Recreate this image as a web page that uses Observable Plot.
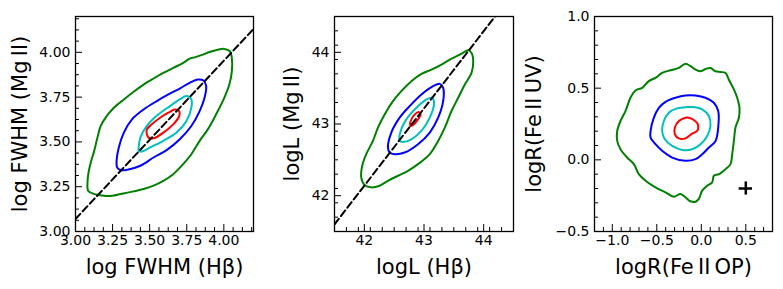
<!DOCTYPE html>
<html><head><meta charset="utf-8">
<script src="https://cdn.jsdelivr.net/npm/d3@7"></script>
<script src="https://cdn.jsdelivr.net/npm/@observablehq/plot@0.6"></script>
<style>
html,body{margin:0;padding:0;background:#fff;}
#chart{position:relative;width:783px;height:289px;overflow:hidden;background:#fff;}
#chart svg{position:absolute;top:0;}
</style></head><body><div id="chart"></div>
<script>
// ---------- Panel 1: log FWHM ----------
const p1XTicks = [3.0, 3.25, 3.5, 3.75, 4.0];
const p1YTicks = [3.0, 3.25, 3.5, 3.75, 4.0];
const p1Green = [[3.081,3.274],[3.085,3.228],[3.114,3.213],[3.192,3.200],[3.25,3.200],[3.303,3.209],[3.392,3.224],[3.459,3.237],[3.526,3.256],[3.592,3.283],[3.659,3.320],[3.726,3.376],[3.781,3.431],[3.837,3.506],[3.892,3.570],[3.948,3.654],[4.003,3.746],[4.037,3.820],[4.054,3.894],[4.054,3.969],[4.041,4.006],[4.003,4.019],[3.959,4.015],[3.903,4.002],[3.859,3.987],[3.803,3.972],[3.770,3.965],[3.726,3.941],[3.659,3.913],[3.592,3.885],[3.526,3.854],[3.459,3.820],[3.392,3.780],[3.326,3.737],[3.259,3.691],[3.210,3.644],[3.170,3.589],[3.148,3.524],[3.126,3.450],[3.103,3.385],[3.088,3.330]];
const p1Blue = [[3.281,3.357],[3.303,3.343],[3.35,3.345],[3.437,3.367],[3.526,3.413],[3.614,3.454],[3.703,3.515],[3.781,3.589],[3.837,3.672],[3.870,3.746],[3.881,3.811],[3.863,3.843],[3.826,3.848],[3.770,3.830],[3.703,3.798],[3.626,3.765],[3.548,3.728],[3.459,3.681],[3.381,3.626],[3.326,3.552],[3.292,3.469],[3.277,3.394]];
const p1Cyan = [[3.426,3.450],[3.448,3.446],[3.503,3.469],[3.592,3.506],[3.681,3.552],[3.748,3.617],[3.781,3.691],[3.781,3.737],[3.748,3.756],[3.703,3.737],[3.637,3.700],[3.559,3.654],[3.481,3.589],[3.437,3.524],[3.426,3.469]];
const p1Red = [[3.481,3.543],[3.492,3.524],[3.526,3.520],[3.592,3.552],[3.659,3.598],[3.699,3.644],[3.699,3.672],[3.670,3.681],[3.626,3.663],[3.570,3.635],[3.514,3.598],[3.481,3.570]];
const p1Diag = [[3.0, 3.07], [4.2, 4.13]];

// ---------- Panel 2: log L ----------
const p2XTicks = [42, 43, 44];
const p2YTicks = [42, 43, 44];
const p2Green = [[42.116,42.116],[42.004,42.148],[41.948,42.255],[41.965,42.417],[42.032,42.579],[42.144,42.764],[42.228,42.949],[42.340,43.134],[42.480,43.319],[42.620,43.458],[42.789,43.597],[42.957,43.699],[43.125,43.759],[43.293,43.829],[43.461,43.912],[43.629,43.981],[43.741,44.028],[43.797,43.991],[43.825,43.875],[43.797,43.713],[43.685,43.551],[43.573,43.366],[43.461,43.181],[43.349,42.949],[43.237,42.764],[43.097,42.579],[42.900,42.440],[42.732,42.347],[42.564,42.278],[42.396,42.208],[42.256,42.139]];
const p2Blue = [[42.424,42.602],[42.508,42.579],[42.676,42.602],[42.900,42.718],[43.097,42.880],[43.237,43.088],[43.321,43.319],[43.321,43.505],[43.265,43.560],[43.153,43.528],[42.957,43.412],[42.760,43.250],[42.592,43.088],[42.452,42.880],[42.396,42.671]];
const p2Cyan = [[42.592,42.764],[42.648,42.750],[42.789,42.787],[42.957,42.903],[43.097,43.088],[43.169,43.296],[43.137,43.366],[43.041,43.343],[42.873,43.227],[42.704,43.065],[42.609,42.903]];
const p2Red = [[42.777,42.972],[42.817,42.986],[42.900,43.065],[42.945,43.134],[42.911,43.167],[42.845,43.134],[42.789,43.065],[42.766,43.005]];
const p2Diag = [[41.5, 41.6], [44.19, 44.5]];

// ---------- Panel 3: log R(Fe II) ----------
const p3XTicks = [-1.0, -0.5, 0.0, 0.5];
const p3YTicks = [-0.5, 0.0, 0.5, 1.0];
const p3Green = [[-0.178,0.671],[-0.252,0.641],[-0.346,0.625],[-0.440,0.606],[-0.515,0.572],[-0.590,0.549],[-0.664,0.502],[-0.739,0.484],[-0.796,0.433],[-0.852,0.340],[-0.908,0.271],[-0.945,0.201],[-0.945,0.132],[-0.908,0.074],[-0.833,0.016],[-0.758,-0.030],[-0.702,-0.100],[-0.627,-0.146],[-0.515,-0.192],[-0.402,-0.227],[-0.309,-0.257],[-0.234,-0.238],[-0.178,-0.262],[-0.121,-0.289],[-0.065,-0.292],[-0.028,-0.273],[0.010,-0.215],[0.066,-0.181],[0.122,-0.157],[0.141,-0.111],[0.197,-0.100],[0.272,-0.065],[0.328,-0.030],[0.347,0.039],[0.366,0.132],[0.384,0.225],[0.422,0.294],[0.429,0.363],[0.403,0.433],[0.366,0.491],[0.309,0.560],[0.272,0.606],[0.216,0.613],[0.160,0.618],[0.103,0.641],[0.047,0.634],[-0.009,0.618],[-0.065,0.630],[-0.121,0.653]];
const p3Blue = [[-0.178,0.449],[-0.290,0.433],[-0.402,0.405],[-0.477,0.363],[-0.533,0.294],[-0.570,0.201],[-0.570,0.155],[-0.515,0.109],[-0.440,0.063],[-0.327,0.016],[-0.178,-0.007],[-0.065,0.005],[0.010,0.039],[0.085,0.086],[0.160,0.132],[0.190,0.225],[0.190,0.340],[0.141,0.398],[0.047,0.433],[-0.065,0.449]];
const p3Cyan = [[-0.159,0.368],[-0.271,0.359],[-0.365,0.329],[-0.421,0.271],[-0.440,0.201],[-0.410,0.144],[-0.327,0.097],[-0.215,0.069],[-0.103,0.074],[-0.009,0.109],[0.066,0.167],[0.103,0.236],[0.085,0.306],[0.010,0.352],[-0.084,0.368]];
const p3Red = [[-0.178,0.294],[-0.252,0.271],[-0.297,0.225],[-0.297,0.178],[-0.252,0.150],[-0.178,0.150],[-0.103,0.183],[-0.047,0.201],[-0.039,0.248],[-0.084,0.278],[-0.140,0.294]];
const p3Err = [{x: 0.5, y: -0.2, xerr: 0.075, yerr: 0.046}];

const FONT = "DejaVu Sans";
const minus = s => s.replace("-", "\u2212");

function minorTicks(lo, hi, step, majors) {
  const out = [];
  const n = Math.floor((hi - lo) / step + 1e-9);
  for (let i = 0; i <= n; i++) {
    const v = +(lo + i * step).toFixed(6);
    if (!majors.some(m => Math.abs(m - v) < 1e-6)) out.push(v);
  }
  return out;
}

function panel(c) {
  const L = 7, ML = 4;
  const xMinor = minorTicks(c.xDomain[0], c.xDomain[1], c.xMinorStep, c.xTicks);
  const yMinor = minorTicks(c.yDomain[0], c.yDomain[1], c.yMinorStep, c.yTicks);
  const contour = (data, color) => Plot.line(data, {x: d => d[0], y: d => d[1], stroke: color, strokeWidth: 2, curve: "catmull-rom-closed"});
  const marks = [
    contour(c.green, "#008000"),
    contour(c.blue, "#0000ff"),
    contour(c.cyan, "#00bfbf"),
    contour(c.red, "#ff0000"),
    ...(c.extra || []),
    Plot.axisX(xMinor, {anchor: "bottom", tickSize: ML, dy: -ML, tickFormat: () => "", label: null, stroke: "black"}),
    Plot.axisX(c.xTicks, {anchor: "bottom", tickSize: L, dy: -L, tickFormat: () => "", label: null, stroke: "black"}),
    Plot.axisX(c.xTicks, {anchor: "bottom", tickSize: 0, tickPadding: 4, tickFormat: c.xFmt, label: null, fontSize: 14, fill: "black"}),
    Plot.axisY(yMinor, {anchor: "left", tickSize: ML, dx: ML, tickFormat: () => "", label: null, stroke: "black"}),
    Plot.axisY(c.yTicks, {anchor: "left", tickSize: L, dx: L, tickFormat: () => "", label: null, stroke: "black"}),
    Plot.axisY(c.yTicks, {anchor: "left", tickSize: 0, tickPadding: 5, tickFormat: c.yFmt, label: null, fontSize: 14, fill: "black"}),
    Plot.text([c.xLabel], {text: d => d, frameAnchor: "bottom", dy: 42, lineAnchor: "bottom", textAnchor: "middle", fontSize: 21, fill: "black"}),
    Plot.text([c.yLabel], {text: d => d, frameAnchor: "left", dx: c.yLabelDx, rotate: -90, lineAnchor: "bottom", textAnchor: "middle", fontSize: 21, fill: "black"}),
    Plot.frame({stroke: "black", strokeWidth: 1.3})
  ];
  const svg = Plot.plot({
    width: 261, height: 289,
    marginLeft: c.ml, marginRight: c.mr, marginTop: 16, marginBottom: 58,
    x: {domain: c.xDomain, label: null},
    y: {domain: c.yDomain, label: null},
    style: {fontFamily: FONT, fontSize: "14px", color: "black", background: "transparent", overflow: "visible"},
    marks
  });
  svg.style.left = c.left + "px";
  return svg;
}

const chart = document.getElementById("chart");

chart.appendChild(panel({
  left: 0, ml: 75, mr: 8,
  xDomain: [3.0, 4.2], yDomain: [3.0, 4.2],
  xTicks: p1XTicks, yTicks: p1YTicks, xMinorStep: 0.0625, yMinorStep: 0.0625,
  xFmt: d3.format(".2f"), yFmt: d3.format(".2f"),
  green: p1Green, blue: p1Blue, cyan: p1Cyan, red: p1Red,
  extra: [Plot.line(p1Diag, {x: d => d[0], y: d => d[1], stroke: "black", strokeWidth: 2, strokeDasharray: "7,3.5", clip: true})],
  xLabel: "log FWHM (H\u03b2)", yLabel: "log FWHM (Mg\u2009II)", yLabelDx: -49
}));

chart.appendChild(panel({
  left: 261, ml: 73, mr: 9,
  xDomain: [41.5, 44.5], yDomain: [41.5, 44.5],
  xTicks: p2XTicks, yTicks: p2YTicks, xMinorStep: 0.2, yMinorStep: 0.2,
  xFmt: d3.format("d"), yFmt: d3.format("d"),
  green: p2Green, blue: p2Blue, cyan: p2Cyan, red: p2Red,
  extra: [Plot.line(p2Diag, {x: d => d[0], y: d => d[1], stroke: "black", strokeWidth: 2, strokeDasharray: "7,3.5", clip: true})],
  xLabel: "logL (H\u03b2)", yLabel: "logL (Mg\u2009II)", yLabelDx: -36
}));

chart.appendChild(panel({
  left: 522, ml: 72, mr: 11,
  xDomain: [-1.2, 0.8], yDomain: [-0.5, 1.0],
  xTicks: p3XTicks, yTicks: p3YTicks, xMinorStep: 0.1, yMinorStep: 0.1,
  xFmt: d => minus(d3.format(".1f")(d)), yFmt: d => minus(d3.format(".1f")(d)),
  green: p3Green, blue: p3Blue, cyan: p3Cyan, red: p3Red,
  extra: [
    Plot.ruleY(p3Err, {y: "y", x1: d => d.x - d.xerr, x2: d => d.x + d.xerr, stroke: "black", strokeWidth: 2.5}),
    Plot.ruleX(p3Err, {x: "x", y1: d => d.y - d.yerr, y2: d => d.y + d.yerr, stroke: "black", strokeWidth: 2.5})
  ],
  xLabel: "logR(Fe\u2009II\u2009OP)", yLabel: "logR(Fe\u2009II\u2009UV)", yLabelDx: -54
}));
</script></body></html>
